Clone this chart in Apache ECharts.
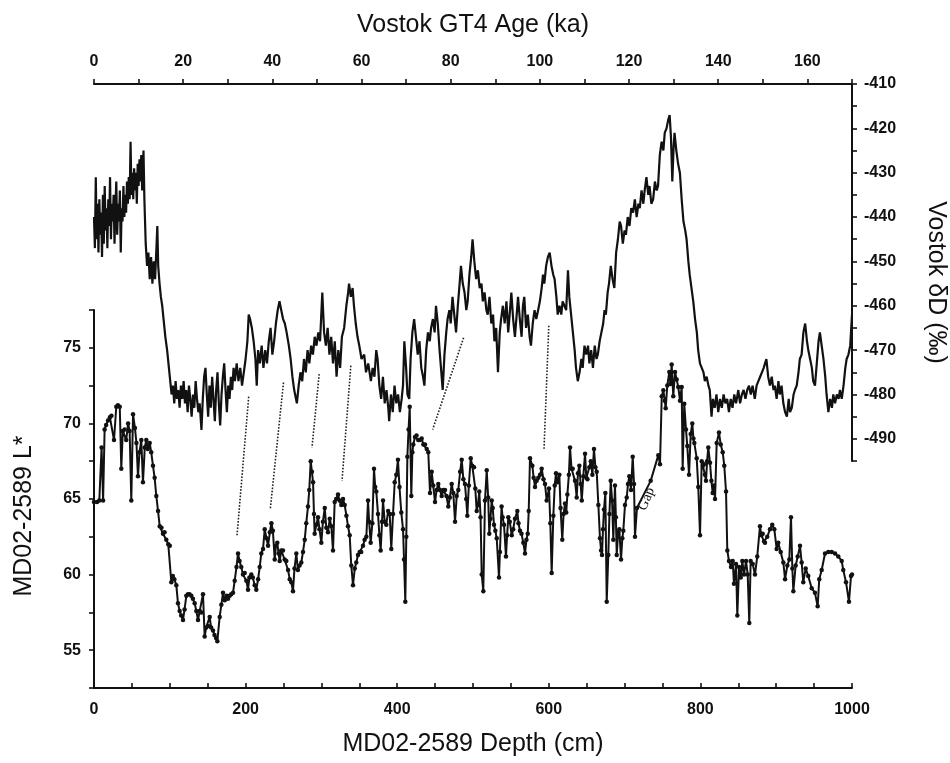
<!DOCTYPE html>
<html>
<head>
<meta charset="utf-8">
<script src="https://cdn.jsdelivr.net/npm/echarts@6/dist/echarts.min.js"></script>
<style>html,body{margin:0;padding:0;background:#fff}#c{width:950px;height:763px}</style>
</head>
<body>
<div id="c"></div>
<script>
// Vostok GT4 age (ka) and deltaD (permil)
const vostokAge = [0.0,0.2,0.4,0.6,0.8,1.0,1.2,1.4,1.6,1.8,2.0,2.2,2.4,2.6,2.8,3.0,3.2,3.4,3.6,3.8,4.0,4.2,4.4,4.6,4.8,5.0,5.2,5.4,5.6,5.8,6.0,6.2,6.4,6.6,6.8,7.0,7.2,7.4,7.6,7.8,8.0,8.2,8.4,8.6,8.8,9.0,9.2,9.4,9.6,9.8,10.0,10.2,10.4,10.6,10.8,11.0,11.1,11.3,11.6,11.9,12.2,12.5,12.8,13.1,13.4,13.7,14.0,14.2,14.4,14.7,15.0,15.3,15.6,16.0,16.4,16.8,17.1,17.4,17.7,18.0,18.3,18.6,18.9,19.2,19.5,19.8,20.1,20.4,20.7,21.0,21.3,21.6,21.9,22.2,22.5,22.8,23.1,23.4,23.7,24.1,24.4,24.7,25.0,25.3,25.6,25.9,26.2,26.5,26.8,27.1,27.4,27.7,28.0,28.3,28.6,28.9,29.2,29.5,29.8,30.1,30.4,30.7,31.0,31.3,31.6,32.0,32.4,32.8,33.2,33.6,34.0,34.4,34.7,35.0,35.4,35.8,36.2,36.5,36.8,37.2,37.6,38.0,38.4,38.8,39.2,39.6,40.0,40.4,40.8,41.2,41.6,42.0,42.4,42.8,43.2,43.7,44.1,44.5,44.9,45.5,45.9,46.3,46.7,47.1,47.5,47.9,48.3,48.7,49.1,49.5,49.9,50.3,50.7,51.2,51.6,52.0,52.4,52.8,53.2,53.6,54.0,54.4,54.8,55.2,55.6,56.1,56.6,57.0,57.2,57.6,58.0,58.3,58.7,59.1,59.5,60.0,60.6,61.0,61.5,62.1,62.5,62.9,63.3,63.6,64.0,64.4,64.8,65.2,65.6,66.0,66.2,66.6,67.0,67.4,67.8,68.2,68.6,69.0,69.3,69.6,70.0,70.3,70.7,71.0,71.4,71.8,72.2,72.6,73.0,73.4,73.8,74.1,74.5,74.9,75.3,75.6,76.0,76.4,76.7,77.1,77.5,77.9,78.2,78.6,79.0,79.3,79.7,80.0,80.4,80.8,81.2,81.6,82.0,82.3,82.7,83.1,83.5,83.8,84.2,84.6,84.9,85.3,85.7,86.1,86.5,86.9,87.2,87.6,88.0,88.3,88.7,89.1,89.5,89.8,90.2,90.6,91.0,91.3,91.7,92.1,92.5,92.9,93.3,93.6,94.0,94.4,94.8,95.1,95.5,95.9,96.2,96.5,96.9,97.3,97.7,98.0,98.4,98.8,99.2,99.6,100.0,100.4,100.7,101.0,101.4,101.8,102.2,102.6,103.0,103.3,103.7,104.0,104.4,104.8,105.1,105.5,105.9,106.3,106.6,107.0,107.4,107.8,108.1,108.5,108.9,109.3,109.6,110.0,110.4,110.8,111.1,111.5,111.9,112.3,112.7,113.0,113.4,113.8,114.2,114.5,114.8,115.2,115.5,115.9,116.3,116.7,117.1,117.5,117.9,118.2,118.6,119.0,119.3,119.7,120.1,120.5,120.9,121.3,121.7,122.1,122.4,122.8,123.2,123.5,123.9,124.3,124.6,125.0,125.4,125.8,126.2,126.5,126.9,127.3,127.7,128.0,128.4,128.8,129.1,129.4,129.7,130.0,130.2,130.6,131.0,131.4,131.8,132.2,132.6,132.9,133.3,133.6,134.0,134.4,134.8,135.2,135.5,135.9,136.3,136.7,137.0,137.4,137.8,138.1,138.5,138.8,139.2,139.6,140.0,140.4,140.8,141.2,141.6,142.0,142.4,142.8,143.2,143.6,144.0,144.5,144.9,145.3,145.7,146.1,146.5,146.9,147.3,147.7,148.2,148.6,149.0,149.4,149.8,150.2,150.5,150.8,151.2,151.6,152.0,152.4,152.7,153.1,153.5,153.8,154.2,154.6,155.0,155.4,155.8,156.1,156.5,156.9,157.2,157.6,158.0,158.3,158.7,159.1,159.5,159.9,160.2,160.6,161.0,161.3,161.7,162.1,162.5,162.8,163.2,163.6,164.0,164.3,164.7,165.1,165.5,165.8,166.2,166.6,167.0,167.3,167.7,168.1,168.5,168.8,169.2,169.6,170.0];
const vostokDD = [-440,-447,-431,-445,-437,-448,-436,-444,-439,-449,-435,-446,-433,-443,-438,-447,-436,-442,-431,-445,-437,-441,-435,-446,-438,-432,-444,-437,-441,-434,-448,-438,-441,-433,-440,-435,-439,-432,-437,-431,-436,-423,-435,-430,-436,-429,-434,-430,-437,-428,-433,-427,-432,-426,-434,-429,-425,-436,-446,-451,-448,-454,-449,-455,-450,-454,-447,-442,-451,-455,-458,-460,-463,-467,-470,-474,-477,-480,-478,-482,-477,-481,-479,-483,-478,-481,-477,-482,-479,-484,-478,-481,-485,-480,-483,-477,-481,-484,-482,-488,-481,-476,-474,-480,-485,-478,-483,-476,-481,-486,-479,-475,-482,-487,-480,-476,-473,-479,-484,-478,-481,-476,-479,-474,-477,-473,-477,-474,-478,-475,-472,-468,-462,-463,-465,-468,-472,-478,-470,-473,-469,-474,-470,-473,-468,-465,-471,-468,-464,-461,-459,-461,-463,-464,-466,-469,-472,-476,-479,-482,-478,-475,-477,-472,-475,-470,-473,-469,-471,-467,-469,-466,-468,-457,-466,-469,-465,-471,-467,-473,-468,-476,-470,-474,-467,-465,-460,-457,-455,-458,-456,-460,-464,-467,-469,-472,-471,-475,-473,-477,-474,-476,-470,-472,-478,-481,-476,-482,-479,-483,-486,-480,-484,-478,-482,-480,-484,-481,-478,-468,-474,-480,-481,-472,-466,-463,-467,-471,-468,-474,-476,-478,-470,-466,-468,-465,-463,-466,-460,-464,-470,-475,-479,-471,-466,-463,-461,-464,-458,-462,-466,-460,-455,-451,-455,-457,-461,-459,-453,-449,-445,-450,-454,-452,-456,-455,-459,-457,-461,-462,-458,-464,-462,-468,-465,-475,-466,-463,-460,-464,-459,-466,-461,-457,-463,-467,-462,-458,-463,-467,-460,-458,-465,-462,-467,-469,-464,-461,-463,-461,-459,-456,-453,-455,-451,-449,-448,-451,-453,-454,-458,-462,-460,-462,-459,-460,-461,-452,-458,-462,-466,-470,-474,-477,-475,-472,-474,-469,-471,-469,-473,-470,-474,-469,-472,-471,-468,-466,-464,-461,-462,-457,-455,-451,-454,-456,-448,-445,-441,-442,-446,-443,-444,-440,-442,-438,-439,-436,-440,-437,-438,-434,-437,-434,-431,-435,-433,-437,-436,-432,-434,-433,-426,-423,-425,-421,-420,-418,-417,-422,-432,-424,-421,-425,-428,-430,-436,-441,-443,-445,-450,-453,-456,-459,-463,-466,-470,-473,-474,-475,-477,-476,-478,-479,-485,-481,-483,-480,-484,-481,-483,-480,-482,-481,-484,-481,-483,-480,-482,-479,-482,-480,-479,-481,-479,-478,-480,-478,-481,-478,-477,-476,-475,-474,-473,-472,-476,-478,-476,-479,-478,-481,-477,-480,-478,-482,-484,-485,-481,-484,-483,-480,-479,-478,-475,-472,-471,-466,-464,-468,-470,-472,-474,-477,-478,-473,-468,-466,-469,-472,-476,-480,-484,-481,-483,-480,-482,-480,-481,-479,-481,-478,-474,-472,-471,-469,-462];

// MD02-2589 depth (cm) and L*
const coreDepth = [0,4,7,10,12,14,16,18.5,21,23,26.4,29.4,31.5,34,36,38,40.5,42.5,45,47,49.2,51.5,54,56,58,60,62.4,64.6,67,69,71,73.5,75.5,77.8,80,82.2,84.5,86.7,89,91,93,95.4,98,100,102,104,106,108.6,110.8,113,115,117.4,119.5,121.8,124,126,128.4,130.5,132.8,135,137.2,139.5,141.5,143.8,146,148,150.5,152.6,154.5,157,159,161,162.7,165.8,168,170.2,172.5,175,176.8,179,181,183.4,185.6,188,190,192,194.3,196.5,198.8,201,203.2,205,207.5,209.5,212,214.1,216.5,218.6,220.7,223,225.2,227.5,229.6,232,234,236,238.4,240,241.8,243.5,245,247,249.3,251.5,253.7,256,258.2,260.3,262.5,264.5,266.9,269,271.2,273.5,275.7,278,280,282.3,284,285.9,287.5,289,290.2,291.1,293.3,295.5,297.5,299.9,302,304.4,306.5,308.7,311,313.1,315.3,317.5,319.5,321.9,324,326.3,328.5,330.7,333,335.1,337.3,339.4,341.7,344,346,348.3,350.5,352.5,354.9,357,359.3,361.5,363,365,367.2,369.4,371,372.4,374.7,376.5,378.2,380,381.3,383.5,385.6,388,390.1,392.2,394.5,396.7,398.8,401,403,405.4,407.7,409,410.7,412,413.4,415,416.5,418.6,420,421.2,423.5,425.5,427.8,430,432.3,434.5,436.7,439,441,443.3,445.5,447.5,449.9,452,454.2,456.5,458.7,461,463.1,465,467.4,469.5,471.9,474,476.3,478.5,480.6,483,485.1,487.3,489.4,491,492.5,494.5,497,499,501.3,503,504.9,506.5,508.3,510,511.5,513.6,515.8,518.1,520,521.5,523,524.7,526,527.7,529.5,531.3,534.3,535.5,537.7,539,540.9,543.5,545,546.6,548.5,551.1,553,555.4,558.5,560,562,564,566.4,568.6,570.5,572.2,573.5,575.2,578.3,580,581.8,584,586.2,588.5,590.6,593,595,597.2,600.3,602,603.8,606,607.8,609.5,611.5,613.9,615.5,617.8,619.5,621.4,623,624.5,626.5,628,630,631.5,634.6,636.8,638.5,640.3,642,643.5,645.5,647.8,649.5,651,653.5,655.4,657.5,659.6,661.5,663.2,665.4,667.5,669,670.2,671.5,672.8,674.6,676.4,678.5,680,681.7,683.5,685.1,687.3,688.5,689.6,691.5,693,695.3,697,698.3,700.5,702.8,704.5,706.2,708.5,710.7,712.4,713.7,716.3,734.4,744.5,746.7,749,751.1,753,754.2,756.3,759,760.5,762.1,764.2,766.5,768.7,770.8,773.1,775.3,776.6,778.7,781,782.7,785,787.2,789.3,790.8,792,795.1,797.2,799.5,801.7,803.2,804.7,806,807.4,808.8,810.4,812.7,814.5,816.2,817.8,819.3,821.5,824.5,826.8,829.4,831.5,833.8,835.5,837.7,840.4,842.6,844.3,847,848.7,851,853.2,855.3,857.5,860.2,862.4,864.5,866.3,869,872,875,878.6,880.5,882.2,884,885.2,888.2,891.8,894.8,897.5,900.6,902.7,905.9,909.4,911.7,914.7,917.3,919.5,921.3,922.6,925.7,928.4,931.4,933.6,935.7,938.9,942.3,946.8,951.1,954.7,956.8,960,964.4,968.7,973.2,977.6,981.9,986.4,988.5,992.1,996,998.7,1000];
const coreL = [64.8,64.8,64.9,68.4,64.9,69.6,69.9,70.2,70.4,70.5,68.9,71.1,71.2,71.1,67.0,69.5,69.6,68.9,70.0,69.5,64.9,70.6,69.7,68.7,66.5,68.1,68.9,66.1,68.4,68.9,68.3,68.7,68.1,67.2,66.4,65.2,64.2,63.2,63.1,62.7,62.8,62.3,62.0,61.9,59.5,59.9,59.7,59.3,58.1,57.6,57.3,57.0,57.7,58.6,58.7,58.7,58.6,58.4,58.1,57.6,57.0,57.6,57.5,58.7,55.9,56.5,56.6,57.2,56.5,56.3,56.0,55.8,55.6,57.2,58.0,58.8,58.3,58.6,58.4,58.6,58.7,58.8,59.6,60.5,61.4,60.9,60.5,60.0,60.1,59.6,59.0,59.8,60.0,59.8,59.3,59.0,59.7,60.5,61.4,61.7,63.0,62.4,61.9,62.8,63.4,62.9,61.0,61.9,62.1,61.4,60.9,61.6,61.6,61.0,60.9,60.3,59.7,59.5,58.9,60.4,61.4,60.3,60.6,60.8,61.5,62.3,63.4,64.5,65.6,67.5,66.8,66.1,64.0,62.7,63.3,63.8,63.0,62.1,63.5,64.4,63.1,62.8,63.7,63.2,61.6,64.8,65.0,65.3,64.9,64.6,65.0,64.6,63.9,63.2,62.6,60.6,59.3,60.4,60.8,61.3,61.5,61.5,61.9,62.3,62.5,64.9,63.5,62.1,63.4,67.0,65.8,65.5,64.0,62.6,61.6,63.5,64.9,63.5,63.3,64.2,64.0,61.7,64.0,66.1,66.6,67.6,65.8,64.1,63.0,61.0,58.2,62.5,67.8,69.6,71.1,65.2,68.1,68.6,69.1,69.2,68.9,68.9,69.0,68.6,68.6,68.3,68.1,65.4,66.8,65.9,64.8,65.6,66.0,65.6,65.2,65.6,65.6,65.2,64.5,65.1,66.0,65.4,63.5,65.2,65.6,66.8,67.6,66.3,66.0,65.0,63.9,65.9,67.7,67.2,67.1,65.7,64.2,64.6,65.5,63.8,60.0,58.9,64.9,66.9,65.1,62.7,63.7,64.9,64.4,63.3,62.9,62.4,59.8,61.5,64.5,63.8,63.3,61.2,62.6,63.8,63.5,62.6,63.0,63.7,64.2,63.4,62.9,62.7,62.1,61.4,62.3,62.7,64.2,67.7,67.2,66.4,65.8,66.2,66.4,66.6,67.0,66.3,66.0,64.9,65.7,63.4,60.1,63.9,65.9,66.7,66.1,66.6,64.4,62.3,64.0,64.7,64.1,65.3,66.6,68.4,67.0,67.0,66.2,65.1,66.7,67.2,66.0,64.9,66.5,68.0,66.4,66.3,67.1,67.5,66.6,68.3,67.1,66.8,64.6,62.4,61.6,61.3,63.0,64.3,65.4,58.2,61.3,64.0,66.2,64.9,62.3,65.9,63.8,61.3,62.8,63.0,61.0,62.4,62.9,64.6,65.1,66.0,66.5,65.6,67.8,66.0,62.5,64.4,66.2,67.9,67.3,71.8,72.2,71.5,71.0,72.5,73.4,72.6,73.9,71.8,73.4,72.9,72.4,71.5,72.4,67.0,71.3,69.6,68.5,66.6,69.3,70.0,69.0,68.7,67.7,65.8,62.6,67.5,67.2,67.3,66.6,66.2,67.5,68.4,67.4,66.2,65.4,65.9,65.0,68.7,69.4,68.6,68.1,67.2,65.5,61.6,60.9,60.5,60.9,59.4,60.7,57.3,60.5,59.8,60.9,60.0,60.9,60.0,56.8,60.9,60.7,60.0,61.2,63.2,62.6,62.7,62.2,62.1,62.5,63.0,63.3,63.0,61.7,62.1,61.5,60.8,59.7,60.6,61.0,63.8,60.4,58.9,60.6,61.2,61.9,60.8,59.5,60.4,59.9,59.1,58.8,57.9,59.7,60.3,61.4,61.5,61.5,61.4,61.2,60.9,60.3,59.5,58.2,59.9,60.0];

// Tie points: Vostok (age, dD) -> core (depth, L*)
const tieAge = [34.7, 42.5, 50.5, 57.6, 82.9, 102.0];
const tieDD = [-480.5, -477.3, -475.4, -473.5, -467.2, -464.5];
const tieDepth = [188.7, 232.6, 287.6, 327.2, 446.8, 593.7];
const tieL = [62.6, 64.35, 68.4, 66.2, 69.6, 68.3];

// "Gap" annotation anchor (depth, L*)
const gapText = 'Gap';
const gapAt = [729, 65.0];

const ink = '#111';
const FONT = 'Liberation Sans';
const chart = echarts.init(document.getElementById('c'), null, {renderer: 'canvas'});

const labelStyle = {color: ink, fontFamily: FONT, fontSize: 16, fontWeight: 'bold'};
const nameStyle = {color: ink, fontFamily: FONT, fontSize: 25};
const axisLine = {show: true, onZero: false, lineStyle: {color: ink, width: 2}};
const tickStyle = {lineStyle: {color: ink, width: 1.6}};

function every(step) {
  return function (v) {
    const r = Math.abs(v / step - Math.round(v / step));
    return r < 1e-6 ? String(Math.round(v)) : '';
  };
}

chart.setOption({
  animation: false,
  backgroundColor: '#fff',
  grid: [
    {left: 94, right: 98, top: 310, height: 378, containLabel: false, outerBoundsMode: 'none'},
    {left: 94, right: 98, top: 84, height: 377, containLabel: false, outerBoundsMode: 'none'}
  ],
  xAxis: [
    {
      type: 'value', gridIndex: 0, position: 'bottom', min: 0, max: 1000, interval: 50,
      name: 'MD02-2589 Depth (cm)', nameLocation: 'middle', nameGap: 44, nameTextStyle: nameStyle,
      axisLine: axisLine,
      axisTick: Object.assign({show: true, inside: true, length: 5}, tickStyle),
      axisLabel: Object.assign({margin: 14, formatter: every(200)}, labelStyle),
      splitLine: {show: false}
    },
    {
      type: 'value', gridIndex: 1, position: 'top', min: 0, max: 170, interval: 10,
      name: 'Vostok GT4 Age (ka)', nameLocation: 'middle', nameGap: 46, nameTextStyle: nameStyle,
      axisLine: axisLine,
      axisTick: Object.assign({show: true, inside: false, length: 5}, tickStyle),
      axisLabel: Object.assign({margin: 14, formatter: every(20)}, labelStyle),
      splitLine: {show: false}
    }
  ],
  yAxis: [
    {
      type: 'value', gridIndex: 0, position: 'left', min: 52.5, max: 77.5, interval: 2.5,
      name: 'MD02-2589 L*', nameLocation: 'middle', nameGap: 57,
      nameTextStyle: Object.assign({padding: [0, 34, 0, 0]}, nameStyle),
      axisLine: axisLine,
      axisTick: Object.assign({show: true, inside: false, length: 5}, tickStyle),
      axisLabel: Object.assign({margin: 13, formatter: every(5)}, labelStyle),
      splitLine: {show: false}
    },
    {
      type: 'value', gridIndex: 1, position: 'right', min: -495, max: -410, interval: 5,
      name: 'Vostok δD (‰)', nameLocation: 'middle', nameGap: 71, nameRotate: -90,
      nameTextStyle: Object.assign({padding: [0, 0, 0, 20]}, nameStyle),
      axisLine: axisLine,
      axisTick: Object.assign({show: true, inside: false, length: 5}, tickStyle),
      axisLabel: Object.assign({margin: 12, formatter: every(10)}, labelStyle),
      splitLine: {show: false}
    }
  ],
  series: [
    {
      name: 'MD02-2589 L*', type: 'line', xAxisIndex: 0, yAxisIndex: 0,
      data: coreDepth.map((d, i) => [d, coreL[i]]),
      symbol: 'circle', symbolSize: 4.5, showAllSymbol: true,
      itemStyle: {color: ink}, lineStyle: {color: ink, width: 2},
      z: 3
    },
    {
      name: 'Vostok δD', type: 'line', xAxisIndex: 1, yAxisIndex: 1,
      data: vostokAge.map((a, i) => [a, vostokDD[i]]),
      showSymbol: false, symbol: 'none',
      lineStyle: {color: ink, width: 2.2},
      z: 3
    }
  ]
});

function drawOverlays() {
  const els = [];
  for (let i = 0; i < tieAge.length; i++) {
    const p1 = chart.convertToPixel({xAxisIndex: 1, yAxisIndex: 1}, [tieAge[i], tieDD[i]]);
    const p2 = chart.convertToPixel({xAxisIndex: 0, yAxisIndex: 0}, [tieDepth[i], tieL[i]]);
    els.push({
      type: 'line', z: 2,
      shape: {x1: p1[0], y1: p1[1], x2: p2[0], y2: p2[1]},
      style: {stroke: '#222', lineWidth: 1.6, lineDash: [1.6, 1.6]}
    });
  }
  const g = chart.convertToPixel({xAxisIndex: 0, yAxisIndex: 0}, gapAt);
  els.push({
    type: 'text', z: 5, x: g[0], y: g[1], rotation: 68 * Math.PI / 180,
    style: {text: gapText, fill: ink, font: '14px "Liberation Serif"', align: 'center', verticalAlign: 'middle'}
  });
  chart.setOption({graphic: els});
}
drawOverlays();
</script>
</body>
</html>
